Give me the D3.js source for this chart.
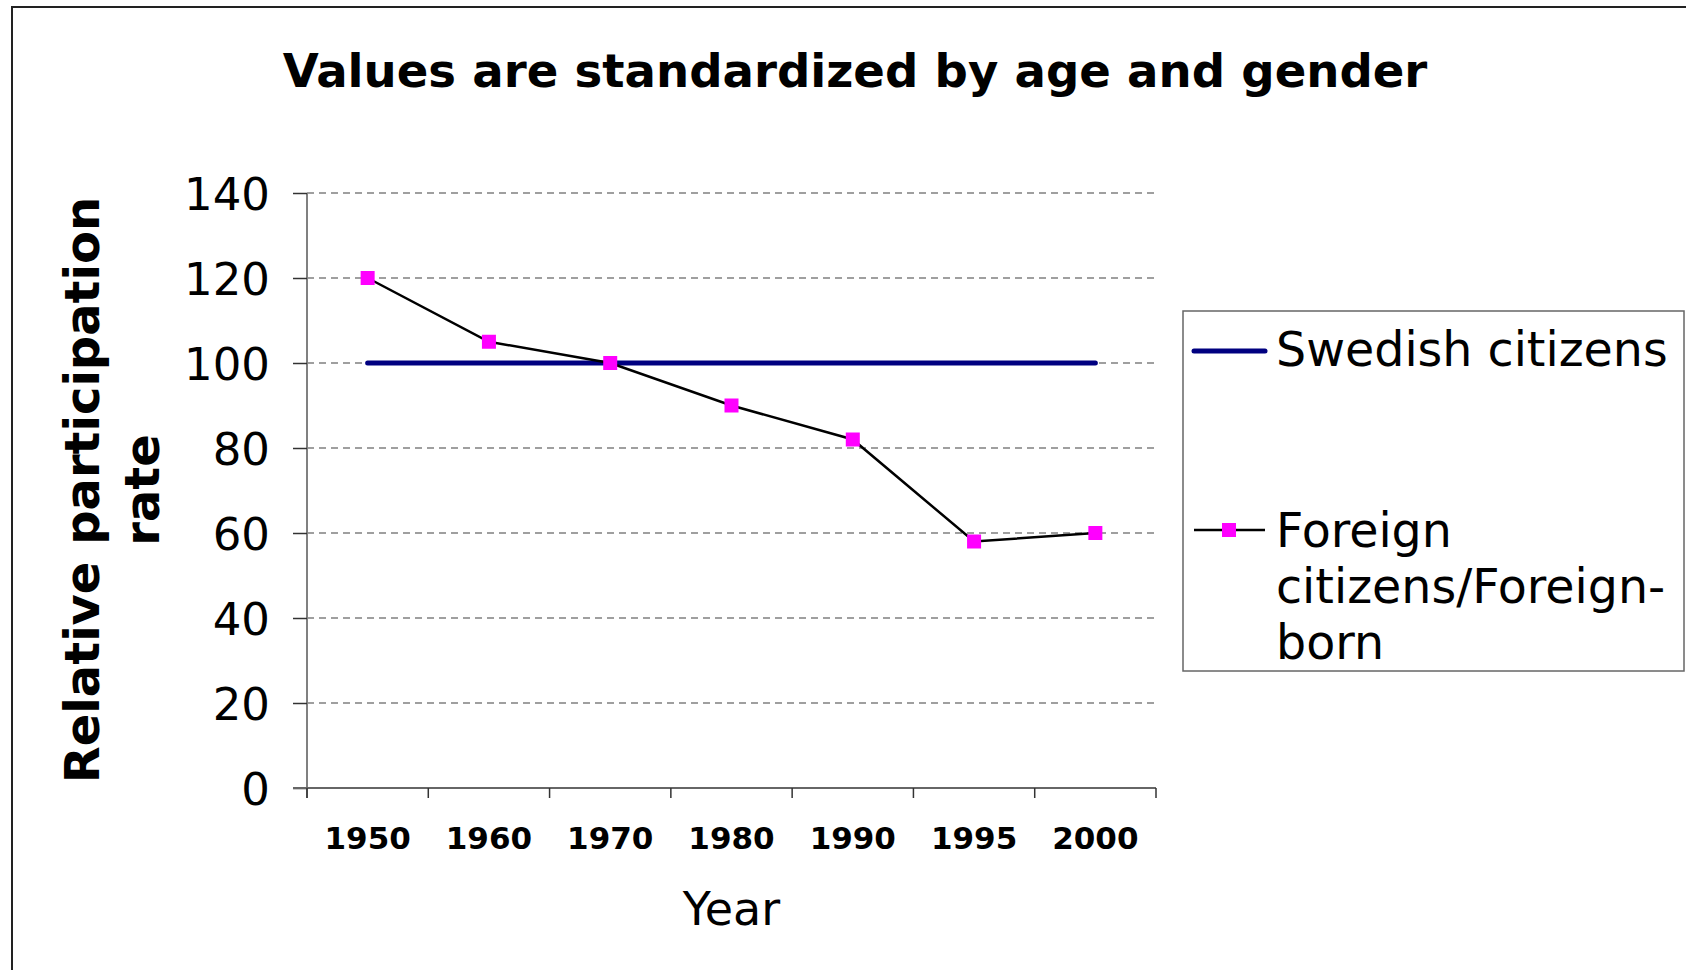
<!DOCTYPE html>
<html>
<head>
<meta charset="utf-8">
<script src="https://cdn.jsdelivr.net/npm/d3@7"></script>
<style>
  body { margin: 0; background: #fff; }
  text { font-family: "DejaVu Sans", Verdana, sans-serif; fill: #000; }
</style>
</head>
<body>
<div id="chart"></div>
<script>
// data
var years = ["1950", "1960", "1970", "1980", "1990", "1995", "2000"];
var swedish = [100, 100, 100, 100, 100, 100, 100];
var foreign = [120, 105, 100, 90, 82, 58, 60];
var yTicks = [0, 20, 40, 60, 80, 100, 120, 140];
var seriesNames = ["Swedish citizens", ["Foreign", "citizens/Foreign-", "born"]];

var cfg = {
  w: 1686,
  h: 970,
  plot: {left: 307, right: 1156, top: 193, bottom: 788},
  navy: "#000080",
  magenta: "#ff00ff",
  grid: "#808080"
};

var svg = d3.select("#chart")
  .append("svg")
  .attr("width", cfg.w)
  .attr("height", cfg.h);

svg.append("rect").attr("width", cfg.w).attr("height", cfg.h).attr("fill", "#fff");

// outer frame (only top and left visible)
svg.append("path")
  .attr("d", "M12," + cfg.h + "V7H" + cfg.w)
  .attr("fill", "none")
  .attr("stroke", "#222")
  .attr("stroke-width", 2);

// title
svg.append("text")
  .attr("x", 855)
  .attr("y", 87)
  .attr("text-anchor", "middle")
  .style("font-size", "46.6px")
  .style("font-weight", "bold")
  .text("Values are standardized by age and gender");

var x = d3.scaleBand()
  .domain(years)
  .range([cfg.plot.left, cfg.plot.right]);

var y = d3.scaleLinear()
  .domain([0, 140])
  .range([cfg.plot.bottom, cfg.plot.top]);

// gridlines
svg.append("g")
  .selectAll("line")
  .data(yTicks.filter(function(d) { return d > 0; }))
  .enter()
  .append("line")
  .attr("x1", cfg.plot.left)
  .attr("x2", cfg.plot.right)
  .attr("y1", function(d) { return y(d); })
  .attr("y2", function(d) { return y(d); })
  .attr("stroke", cfg.grid)
  .attr("stroke-width", 1.5)
  .attr("stroke-dasharray", "7,5");

// y axis
var yAxis = svg.append("g")
  .attr("transform", "translate(" + cfg.plot.left + ",0)")
  .call(d3.axisLeft(y).tickValues(yTicks).tickSize(14).tickPadding(23).tickSizeOuter(0));
yAxis.select(".domain").attr("stroke", "#808080").attr("stroke-width", 2)
  .attr("d", "M0," + cfg.plot.top + "V" + (cfg.plot.bottom + 10));
yAxis.selectAll(".tick line").attr("stroke", "#333").attr("stroke-width", 1.5);
yAxis.selectAll(".tick text")
  .style("font-size", "45px")
  .style("font-family", "'DejaVu Sans', Verdana, sans-serif")
  .attr("dy", "0.36em");

// x axis, ticks sit between categories
var xAxis = svg.append("g")
  .attr("transform", "translate(0," + cfg.plot.bottom + ")");
xAxis.append("line")
  .attr("x1", cfg.plot.left - 14)
  .attr("x2", cfg.plot.right)
  .attr("stroke", "#666")
  .attr("stroke-width", 2);
xAxis.selectAll(".xtick")
  .data(years.concat(["end"]))
  .enter()
  .append("line")
  .attr("class", "xtick")
  .attr("x1", function(d, i) { return i < years.length ? x(d) : cfg.plot.right; })
  .attr("x2", function(d, i) { return i < years.length ? x(d) : cfg.plot.right; })
  .attr("y1", 0)
  .attr("y2", 10)
  .attr("stroke", "#333")
  .attr("stroke-width", 1.5);
xAxis.selectAll(".xlabel")
  .data(years)
  .enter()
  .append("text")
  .attr("class", "xlabel")
  .attr("x", function(d) { return x(d) + x.bandwidth() / 2; })
  .attr("y", 61)
  .attr("text-anchor", "middle")
  .style("font-size", "31px")
  .style("font-weight", "bold")
  .text(function(d) { return d; });

// axis titles
svg.append("text")
  .attr("x", (cfg.plot.left + cfg.plot.right) / 2)
  .attr("y", 925)
  .attr("text-anchor", "middle")
  .style("font-size", "46px")
  .text("Year");

var yTitle = svg.append("text")
  .attr("transform", "translate(99,490) rotate(-90)")
  .attr("text-anchor", "middle")
  .style("font-size", "48px")
  .style("font-weight", "bold");
yTitle.append("tspan").attr("x", 0).attr("y", 0).text("Relative participation");
yTitle.append("tspan").attr("x", 0).attr("y", 60).text("rate");

var cx = function(d, i) { return x(years[i]) + x.bandwidth() / 2; };

// Swedish citizens line
svg.append("path")
  .datum(swedish)
  .attr("fill", "none")
  .attr("stroke", cfg.navy)
  .attr("stroke-width", 5)
  .attr("stroke-linecap", "round")
  .attr("d", d3.line().x(cx).y(function(d) { return y(d); }));

// Foreign citizens line + markers
svg.append("path")
  .datum(foreign)
  .attr("fill", "none")
  .attr("stroke", "#000")
  .attr("stroke-width", 2.5)
  .attr("d", d3.line().x(cx).y(function(d) { return y(d); }));

svg.append("g")
  .selectAll("rect")
  .data(foreign)
  .enter()
  .append("rect")
  .attr("x", function(d, i) { return cx(d, i) - 7; })
  .attr("y", function(d) { return y(d) - 7; })
  .attr("width", 14)
  .attr("height", 14)
  .attr("fill", cfg.magenta);

// legend
var legend = svg.append("g");
legend.append("rect")
  .attr("x", 1183)
  .attr("y", 311)
  .attr("width", 501)
  .attr("height", 360)
  .attr("fill", "#fff")
  .attr("stroke", "#666")
  .attr("stroke-width", 1.5);

legend.append("line")
  .attr("x1", 1194).attr("x2", 1265)
  .attr("y1", 351).attr("y2", 351)
  .attr("stroke", cfg.navy)
  .attr("stroke-width", 5)
  .attr("stroke-linecap", "round");
legend.append("text")
  .attr("x", 1276)
  .attr("y", 366)
  .style("font-size", "47.5px")
  .text(seriesNames[0]);

legend.append("line")
  .attr("x1", 1194).attr("x2", 1265)
  .attr("y1", 530).attr("y2", 530)
  .attr("stroke", "#000")
  .attr("stroke-width", 2.5);
legend.append("rect")
  .attr("x", 1222).attr("y", 523)
  .attr("width", 14).attr("height", 14)
  .attr("fill", cfg.magenta);
legend.append("text")
  .style("font-size", "47.5px")
  .selectAll("tspan")
  .data(seriesNames[1])
  .enter()
  .append("tspan")
  .attr("x", 1276)
  .attr("y", function(d, i) { return 547 + i * 56; })
  .text(function(d) { return d; });
</script>
</body>
</html>
